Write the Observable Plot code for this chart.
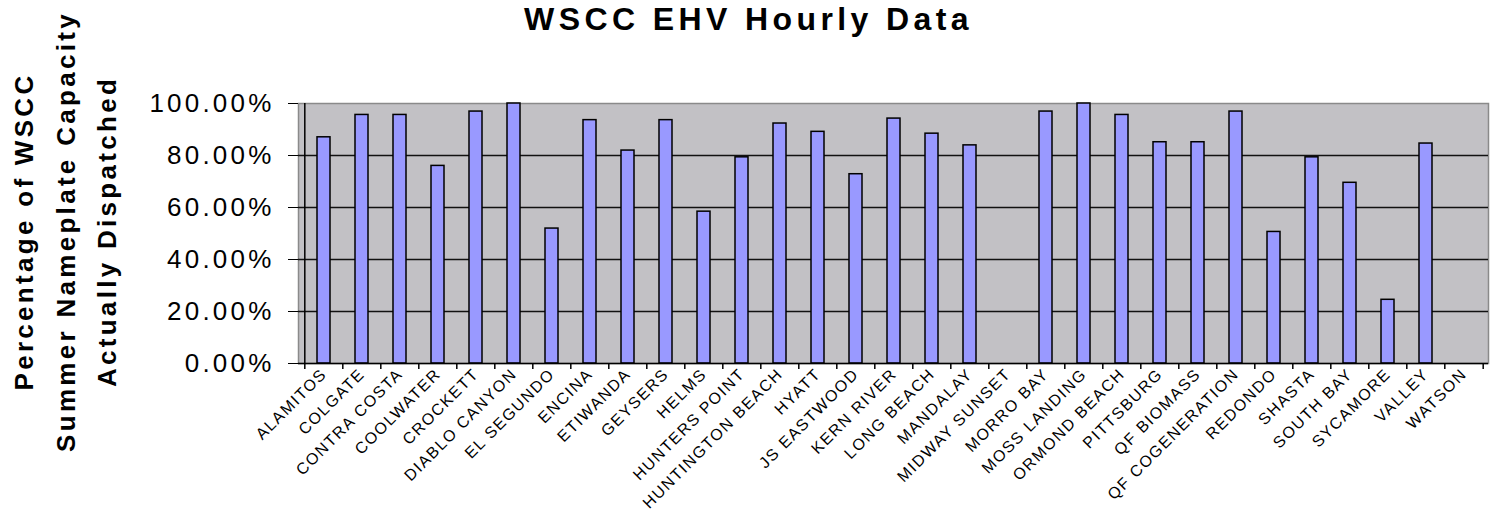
<!DOCTYPE html>
<html>
<head>
<meta charset="utf-8">
<script src="https://cdn.jsdelivr.net/npm/d3@7"></script>
<script src="https://cdn.jsdelivr.net/npm/@observablehq/plot@0.6"></script>
<style>
  html, body { margin: 0; padding: 0; background: #fff; }
  #chart { width: 1496px; height: 518px; overflow: hidden; }
  [aria-label="y-axis tick label"] text { letter-spacing: 3.2px; }
  [aria-label="x-axis tick label"] text { letter-spacing: 1.5px; }
  .ylab text { letter-spacing: 3.3px; }
  .ttl text { letter-spacing: 4.4px; }
</style>
</head>
<body>
<div id="chart"></div>
<script>
const titleText = "WSCC EHV Hourly Data";
const yLabel = "Percentage of WSCC\nSummer Nameplate Capacity\nActually Dispatched";

const categories = [
  "ALAMITOS", "COLGATE", "CONTRA COSTA", "COOLWATER", "CROCKETT", "DIABLO CANYON",
  "EL SEGUNDO", "ENCINA", "ETIWANDA", "GEYSERS", "HELMS", "HUNTERS POINT",
  "HUNTINGTON BEACH", "HYATT", "JS EASTWOOD", "KERN RIVER", "LONG BEACH", "MANDALAY",
  "MIDWAY SUNSET", "MORRO BAY", "MOSS LANDING", "ORMOND BEACH", "PITTSBURG", "QF BIOMASS",
  "QF COGENERATION", "REDONDO", "SHASTA", "SOUTH BAY", "SYCAMORE", "VALLEY", "WATSON"
];
const values = [
  87.0, 95.6, 95.6, 76.0, 96.9, 100.0,
  51.9, 93.6, 81.9, 93.6, 58.4, 79.3,
  92.3, 89.1, 72.8, 94.2, 88.4, 83.9,
  0, 96.9, 100.0, 95.6, 85.1, 85.1,
  96.9, 50.6, 79.3, 69.5, 24.5, 84.6, 0
];
const yTicks = [0, 20, 40, 60, 80, 100];
const gridTicks = [20, 40, 60, 80];

const data = categories.map((name, i) => ({name, value: values[i]}));

const W = 1496, H = 518;
const mL = 298, mR = 8, mT = 103, mB = 155;
const step = (W - mL - mR) / categories.length;
const font = "'Liberation Sans', Arial, sans-serif";

const chart = Plot.plot({
  width: W,
  height: H,
  marginLeft: mL,
  marginRight: mR,
  marginTop: mT,
  marginBottom: mB,
  style: {fontFamily: font, fontSize: "16px", background: "#fff", color: "#000"},
  x: {domain: categories, paddingInner: 0.66, paddingOuter: 0.33, label: null},
  y: {domain: [0, 100], label: null},
  marks: [
    Plot.frame({fill: "#c2c1c5", stroke: "#8a8a8a", strokeWidth: 1.5}),
    Plot.gridY(gridTicks, {stroke: "#111", strokeOpacity: 1, strokeWidth: 1.6}),
    Plot.barY(data, {x: "name", y: "value", fill: "#9999ff", stroke: "#000", strokeWidth: 1.5}),
    Plot.ruleY([0], {stroke: "#000", strokeWidth: 1.5}),
    Plot.ruleX([categories[0]], {dx: -step / 2, y1: 0, y2: 100, stroke: "#000", strokeWidth: 1.5}),
    Plot.ruleX(categories, {dx: -step / 2, y1: 0, y2: 0, insetBottom: -6, stroke: "#000", strokeWidth: 1.5}),
    Plot.ruleX([categories[categories.length - 1]], {dx: step / 2, y1: 0, y2: 0, insetBottom: -6, stroke: "#000", strokeWidth: 1.5}),
    Plot.axisY(yTicks, {
      tickFormat: d => d.toFixed(2) + "%",
      tickSize: 10, tickPadding: 14, fontSize: 26, label: null, stroke: "#000"
    }),
    Plot.axisX({
      tickSize: 0, tickPadding: 8, tickRotate: -45, fontSize: 16, label: null
    }),
    Plot.text([titleText], {
      text: d => d, frameAnchor: "top", lineAnchor: "middle", textAnchor: "middle",
      dx: 748 - (mL + (W - mL - mR) / 2), dy: 19 - mT,
      fontSize: 32, fontWeight: "bold", fill: "#000", className: "ttl"
    }),
    Plot.text([yLabel], {
      text: d => d, frameAnchor: "left", rotate: -90, textAnchor: "middle", lineAnchor: "middle",
      lineHeight: 1.6, dx: 61 - mL, dy: -2,
      fontSize: 26, fontWeight: "bold", fill: "#000", className: "ylab"
    })
  ]
});

document.getElementById("chart").appendChild(chart);
</script>
</body>
</html>
